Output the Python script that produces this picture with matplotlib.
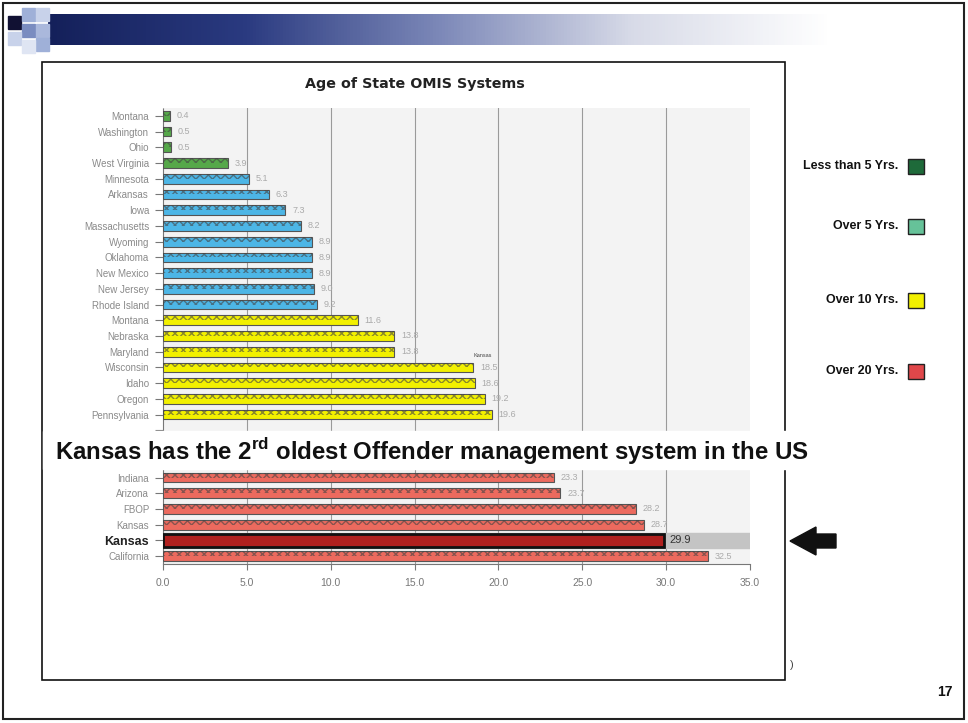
import numpy as np
import matplotlib
matplotlib.use("Agg")
import matplotlib.pyplot as plt
from matplotlib.patches import Rectangle, FancyArrow
from matplotlib.colors import LinearSegmentedColormap

plt.rcParams["font.family"] = ["Liberation Sans", "DejaVu Sans"]

# ---------------- data ----------------
states = ["Montana", "Washington", "Ohio", "West Virginia", "Minnesota", "Arkansas",
          "Iowa", "Massachusetts", "Wyoming", "Oklahoma", "New Mexico", "New Jersey",
          "Rhode Island", "Montana", "Nebraska", "Maryland", "Wisconsin", "Idaho",
          "Oregon", "Pennsylvania", "", "", "", "Indiana", "Arizona", "FBOP",
          "Kansas", "Kansas", "California"]
ages = [0.4, 0.5, 0.5, 3.9, 5.1, 6.3, 7.3, 8.2, 8.9, 8.9, 8.9, 9.0,
        9.2, 11.6, 13.8, 13.8, 18.5, 18.6, 19.2, 19.6, np.nan, np.nan, np.nan,
        23.3, 23.7, 28.2, 28.7, 29.9, 32.5]
groups = ["lt5", "lt5", "lt5", "lt5", "gt5", "gt5", "gt5", "gt5", "gt5", "gt5", "gt5",
          "gt5", "gt5", "gt10", "gt10", "gt10", "gt10", "gt10", "gt10", "gt10",
          "", "", "", "gt20", "gt20", "gt20", "gt20", "hl", "gt20"]
legend_labels = ["Less than 5 Yrs.", "Over 5 Yrs.", "Over 10 Yrs.", "Over 20 Yrs."]
xticks = [0, 5, 10, 15, 20, 25, 30, 35]

bar_colors = {"lt5": "#56a84a", "gt5": "#4db6e6", "gt10": "#f2f000",
              "gt20": "#ec6a5e", "hl": "#b0201e", "": "white"}
legend_colors = ["#1e6a3a", "#66c299", "#f2f000", "#e0474a"]

W, H = 968, 723
fig = plt.figure(figsize=(W / 100, H / 100), dpi=100)
fig.patch.set_facecolor("white")

def fx(px):
    return px / W

def fy(py):
    return 1 - py / H

ov = fig.add_axes([0, 0, 1, 1], zorder=0)
ov.set_xlim(0, W)
ov.set_ylim(H, 0)
ov.axis("off")

ov.add_patch(Rectangle((3, 3), W - 7, H - 7, fill=False, lw=1.5, ec="#222222"))

grad = np.linspace(0, 1, 256)[None, :]
cmap = LinearSegmentedColormap.from_list("hdr", ["#14205a", "#2a3a80", "#7c88b8", "#d8dbe8", "#ffffff"])
ov.imshow(grad, extent=(48, 830, 45, 14), cmap=cmap, aspect="auto", zorder=1)
sq = [(8, 16, "#111133"), (22, 8, "#9fb0d8"), (36, 8, "#c8d2ea"), (22, 24, "#7a8cc0"),
      (36, 24, "#aab8dc"), (8, 32, "#c8d2ea"), (36, 38, "#9fb0d8"), (22, 40, "#dfe5f3")]
for x0, y0, c in sq:
    ov.add_patch(Rectangle((x0, y0), 13, 13, color=c, zorder=2))

ov.add_patch(Rectangle((42, 62), 743, 618, fill=False, lw=1.2, ec="#111111", zorder=3))

ov.text(415, 84, "Age of State OMIS Systems", ha="center", va="center",
        fontsize=10.3, fontweight="bold", color="#222222", zorder=4, family="DejaVu Sans")

# ---------------- main chart ----------------
x0p, x1p, y0p, y1p = 163, 750, 108, 564
ax = fig.add_axes([fx(x0p), fy(y1p), fx(x1p - x0p), (y1p - y0p) / H], zorder=2)
n = len(states)
ypos = np.arange(n)
ax.set_facecolor("#f3f3f3")
for xt in xticks[1:-1]:
    ax.axvline(xt, color="#9a9a9a", lw=0.8, zorder=1)
for i, (v, g) in enumerate(zip(ages, groups)):
    if np.isnan(v) or g == "hl":
        continue
    ax.barh(ypos[i], v, height=0.62, color=bar_colors[g], edgecolor="#555555",
            lw=0.8, zorder=3)
    ax.barh(ypos[i] - 0.15, v, height=0.3, color="none", edgecolor="#444444",
            hatch="xxxx", lw=0, zorder=4, alpha=0.6)
    ax.text(v + 0.4, ypos[i], f"{v:.1f}", va="center", ha="left", fontsize=6.5,
            color="#aaaaaa", zorder=5)

hl = groups.index("hl")
ax.axhspan(hl - 0.5, hl + 0.5, color="#c4c4c4", zorder=2)
ax.barh(ypos[hl], ages[hl], height=0.78, color=bar_colors["hl"], edgecolor="#111111",
        lw=2.0, zorder=6)
ax.text(ages[hl] + 0.3, ypos[hl], f"{ages[hl]:.1f}", va="center", ha="left",
        fontsize=8, color="#333333", zorder=7)

ax.set_xlim(0, 35)
ax.set_ylim(n - 0.5, -0.5)
ax.set_yticks(ypos)
ylabs = ax.set_yticklabels(states, fontsize=7, color="#8a8a8a")
ylabs[hl].set_color("#222222")
ylabs[hl].set_fontweight("bold")
ylabs[hl].set_fontsize(9)
ax.set_xticks(xticks)
ax.set_xticklabels([f"{t:.1f}" for t in xticks], fontsize=7.5, color="#777777")
ax.tick_params(axis="y", length=6, color="#777777", pad=4)
ax.tick_params(axis="x", length=4, color="#777777", pad=6)
for s in ["top", "right"]:
    ax.spines[s].set_visible(False)
ax.spines["left"].set_color("#777777")
ax.spines["bottom"].set_color("#777777")
ax.spines["left"].set_linestyle((0, (2, 1)))
ax.spines["bottom"].set_linestyle((0, (2, 1)))

wi = states.index("Wisconsin")
ax.text(ages[wi], wi - 0.75, "Kansas", fontsize=4, color="#444444", ha="left", va="center", zorder=6)

# ---------------- top overlay ----------------
top = fig.add_axes([0, 0, 1, 1], zorder=5)
top.set_xlim(0, W)
top.set_ylim(H, 0)
top.axis("off")
top.patch.set_alpha(0)

top.add_patch(Rectangle((43, 431), 770, 38, color="white", zorder=1))
top.text(55, 451, r"Kansas has the 2$^{\mathregular{rd}}$ oldest Offender management system in the US",
         fontsize=17.3, fontweight="bold", color="#111111", ha="left", va="center", zorder=2)

leg_y = [166, 226, 300, 371]
for lab, c, y in zip(legend_labels, legend_colors, leg_y):
    top.text(898, y, lab, fontsize=8.9, fontweight="bold", color="#111111",
             ha="right", va="center")
    top.add_patch(Rectangle((908, y - 7), 16, 15, facecolor=c, edgecolor="#222222", lw=1))

top.add_patch(FancyArrow(836, 541, -46, 0, width=14, head_width=28, head_length=26,
                         length_includes_head=True, color="#111111"))

top.text(790, 665, ")", fontsize=8, color="#444444", ha="left", va="center")
top.text(945, 692, "17", fontsize=10, fontweight="bold", color="#111111", ha="center", va="center")

fig.savefig("out.png", dpi=100)
